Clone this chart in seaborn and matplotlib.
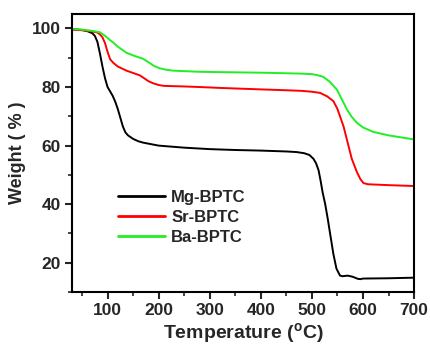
import matplotlib
matplotlib.use("Agg")
import matplotlib.pyplot as plt
import seaborn as sns
import pandas as pd
from matplotlib.ticker import MultipleLocator

# Data (Temperature in °C, Weight in %)
mg_T = [30, 50, 60, 70, 75, 80, 85, 90, 95, 100, 105, 110, 115, 120, 125, 130, 135, 140, 150, 160, 170, 185, 200,
        250, 300, 350, 400, 450, 470, 485, 495, 503, 508, 513, 517, 521, 526, 531, 536, 542, 548, 555, 560,
        570, 580, 590, 595, 600, 650, 700]
mg_W = [99.8, 99.5, 99.1, 98.4, 97.5, 95.5, 91.5, 87.0, 83.0, 80.0, 78.5, 77.0, 75.0, 72.5, 69.5, 66.5, 64.5, 63.5,
        62.3, 61.5, 61.0, 60.5, 60.0, 59.3, 58.8, 58.5, 58.3, 58.0, 57.8, 57.4, 56.8, 55.5, 54.0, 51.6, 48.0,
        44.0, 40.0, 35.0, 29.5, 23.0, 18.0, 15.6, 15.4, 15.6, 15.2, 14.5, 14.4, 14.6, 14.7, 14.9]

sr_T = [30, 50, 70, 80, 85, 90, 95, 100, 105, 111, 120, 137, 150, 163, 170, 180, 189, 200, 210, 250, 281, 320,
        400, 450, 480, 500, 516, 530, 542, 550, 556, 562, 570, 578, 588, 595, 601, 610, 650, 700]
sr_W = [99.6, 99.4, 99.0, 98.6, 98.0, 97.0, 95.0, 92.0, 89.5, 88.3, 87.0, 85.6, 84.8, 84.0, 83.2, 82.0, 81.3, 80.7,
        80.4, 80.2, 80.0, 79.7, 79.2, 78.9, 78.7, 78.4, 78.0, 76.8, 75.2, 72.5, 69.5, 66.5, 61.0, 55.5, 51.0,
        48.5, 47.2, 46.8, 46.5, 46.2]

ba_T = [30, 50, 70, 85, 95, 105, 111, 120, 137, 150, 160, 169, 180, 190, 202, 215, 228, 281, 320, 400, 477, 500,
        510, 522, 535, 549, 558, 569, 578, 588, 600, 620, 650, 700]
ba_W = [99.8, 99.6, 99.2, 98.7, 97.5, 96.0, 95.2, 93.8, 91.7, 90.8, 90.2, 89.7, 88.5, 87.3, 86.4, 85.9, 85.6, 85.2,
        85.1, 84.9, 84.6, 84.4, 84.1, 83.5, 81.8, 79.1, 76.0, 72.2, 69.8, 67.8, 66.2, 64.7, 63.5, 62.1]

labels = ["Mg-BPTC", "Sr-BPTC", "Ba-BPTC"]
colors = ["#000000", "#ff0000", "#22ee22"]

df = pd.concat([
    pd.DataFrame({"Temperature": mg_T, "Weight": mg_W, "Sample": labels[0]}),
    pd.DataFrame({"Temperature": sr_T, "Weight": sr_W, "Sample": labels[1]}),
    pd.DataFrame({"Temperature": ba_T, "Weight": ba_W, "Sample": labels[2]}),
], ignore_index=True)

sns.set_style("ticks")
plt.rcParams["font.family"] = ["Liberation Sans", "DejaVu Sans"]
plt.rcParams["font.weight"] = "bold"
plt.rcParams["mathtext.fontset"] = "custom"
plt.rcParams["mathtext.rm"] = "Liberation Sans:bold"
plt.rcParams["mathtext.bf"] = "Liberation Sans:bold"

fig = plt.figure(figsize=(4.30, 3.46), dpi=100)
ax = fig.add_axes([0.167, 0.156, 0.796, 0.804])

sns.lineplot(data=df, x="Temperature", y="Weight", hue="Sample", palette=colors,
             hue_order=labels, linewidth=1.4, ax=ax, sort=False)

ax.set_xlim(30, 700)
ax.set_ylim(10, 105)
ax.xaxis.set_major_locator(MultipleLocator(100))
ax.xaxis.set_minor_locator(MultipleLocator(50))
ax.yaxis.set_major_locator(MultipleLocator(20))
ax.yaxis.set_minor_locator(MultipleLocator(10))
ax.tick_params(axis="both", which="major", direction="out", length=5, width=1.5,
               labelsize=12.5, pad=3)
ax.tick_params(axis="both", which="minor", direction="out", length=3, width=1.2)
for lab in ax.get_xticklabels() + ax.get_yticklabels():
    lab.set_fontweight("bold")
for s in ax.spines.values():
    s.set_linewidth(1.5)
    s.set_color("black")

ax.set_xlabel(r"Temperature ($^{\rm o}$C)", fontsize=14, fontweight="bold", labelpad=2)
ax.set_ylabel("Weight ( % )", fontsize=13, fontweight="bold", labelpad=4)

leg = ax.legend(loc="upper left", bbox_to_anchor=(0.115, 0.39), frameon=False,
                prop={"weight": "bold", "size": 12}, handlelength=2.8,
                handletextpad=0.4, labelspacing=0.3, borderaxespad=0)
for h in leg.get_lines():
    h.set_linewidth(2.0)

fig.savefig("out.png", dpi=100)
